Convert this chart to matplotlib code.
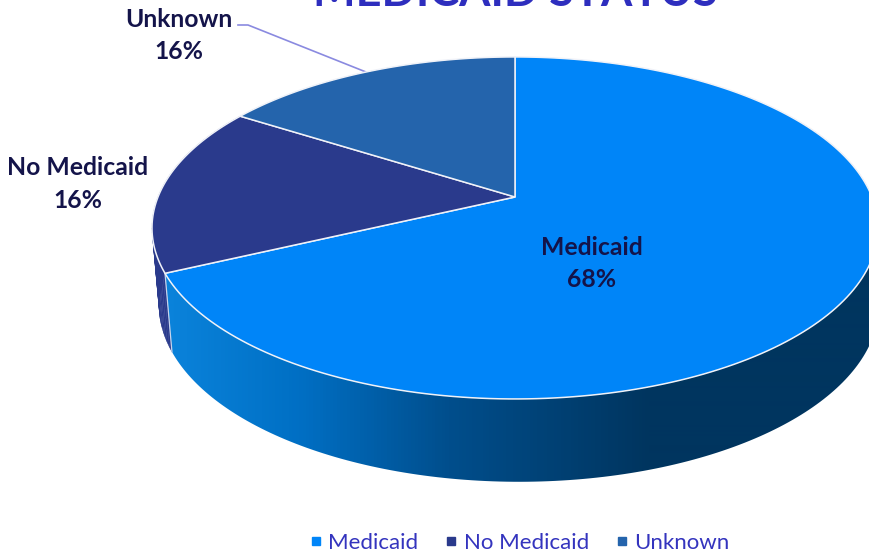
import numpy as np
import matplotlib
matplotlib.use("Agg")
import matplotlib.pyplot as plt
from matplotlib.colors import LinearSegmentedColormap
from matplotlib.lines import Line2D
from matplotlib.patches import Polygon

plt.rcParams["font.family"] = ["Lato", "DejaVu Sans"]

labels = ["Medicaid", "No Medicaid", "Unknown"]
values = [68, 16, 16]
colors = ["#0085F8", "#2A3A8C", "#2464AC"]
TEXT = "#14144A"
BLUE = "#3434BE"

# tilted disc: pixel canvas, perspective squeeze
K = 0.181
TOP = dict(cx=515, a=357, b=165.4, y0=197)
BOT = dict(cx=519, a=354, b=171, y0=273)
# wall shading runs left to right across the canvas
wall = LinearSegmentedColormap.from_list(
    "wall", [(0, "#0A84DC"), (173 / 870, "#0A82DA"), (300 / 870, "#006FC4"),
             (450 / 870, "#004E8C"), (650 / 870, "#00355F"), (1, "#00355F")])


def project(theta, d):
    # theta clockwise from top, radians
    u, v = np.sin(theta), np.cos(theta)
    s = 1 + K * v
    return d["cx"] + d["a"] * u / s, d["y0"] - d["b"] * v / s


def arc(a0, a1, d, n=200):
    t = np.linspace(a0, a1, n)
    x, y = project(t, d)
    return np.column_stack([x, y])


fig = plt.figure(figsize=(8.7, 5.54), dpi=100)
ax = fig.add_axes([0, 0, 1, 1])

edges = 2 * np.pi * np.cumsum([0] + values) / sum(values)

# No Medicaid wall, built from slices so the left tangent stays filled
ts = np.linspace(edges[1], edges[2], 40)
for t0, t1 in zip(ts[:-1], ts[1:]):
    quad = np.vstack([arc(t0, t1, TOP, 2), arc(t0, t1, BOT, 2)[::-1]])
    ax.add_patch(Polygon(quad, fc=colors[1], ec=colors[1], lw=0.3, zorder=1))

# Medicaid wall, gradient clipped to the wall outline
a0, a1 = np.radians(60), edges[1]
shape = Polygon(np.vstack([arc(a0, a1, TOP), arc(a0, a1, BOT)[::-1]]),
                transform=ax.transData, fc="none", ec="none")
ax.add_patch(shape)
im = ax.imshow(np.linspace(0, 1, 870)[None, :], extent=(0, 870, 554, 0), cmap=wall,
               aspect="auto", interpolation="bilinear", zorder=2)
im.set_clip_path(shape)

sx, sy = project(edges[1], TOP)
bx, by = project(edges[1], BOT)
ax.plot([sx, bx], [sy, by], color="#C8D4EC", lw=0.9, zorder=3)

# top face
for i in range(3):
    pts = np.vstack([[TOP["cx"], TOP["y0"]], arc(edges[i], edges[i + 1], TOP)])
    ax.add_patch(Polygon(pts, closed=True, fc=colors[i], ec="#F0F2F8", lw=1.1, zorder=4))

ax.text(592, 263.5, "Medicaid\n68%", ha="center", va="center", fontsize=17.8,
        fontweight="bold", color=TEXT, linespacing=1.5, zorder=5)
ax.text(78, 184, "No Medicaid\n16%", ha="center", va="center", fontsize=17.8,
        fontweight="bold", color=TEXT, linespacing=1.5, zorder=5)
ax.text(179, 35.5, "Unknown\n16%", ha="center", va="center", fontsize=17.8,
        fontweight="bold", color=TEXT, linespacing=1.5, zorder=5)
ax.plot([238, 248, 366], [25, 25, 72], color="#8A8AE0", lw=1.2, zorder=3)

ax.text(515, 5.5, "MEDICAID STATUS", ha="center", va="baseline", fontsize=32.5,
        fontweight="bold", color="#2E2EBE", zorder=5)

handles = [Line2D([], [], ls="none", marker="s", ms=5.5, color=c) for c in colors]
ax.legend(handles, labels, loc="center", bbox_to_anchor=(520 / 870, 1 - 543 / 554),
          ncol=3, frameon=False, fontsize=16, labelcolor=BLUE, handlelength=0.5,
          handletextpad=0.3, columnspacing=1.25, borderpad=0)

ax.set_xlim(0, 870)
ax.set_ylim(554, 0)
ax.axis("off")

fig.savefig("out.png", dpi=100)
